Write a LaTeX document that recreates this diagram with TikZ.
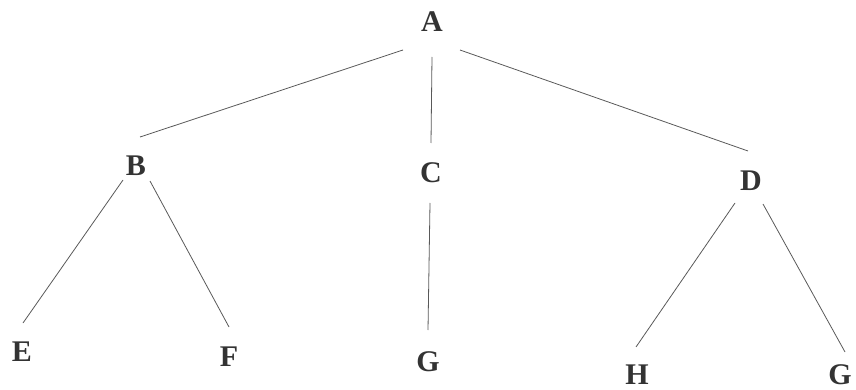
\documentclass[tikz,border=0pt]{standalone}
\usepackage{fontspec}
\setmainfont{Liberation Serif}
\begin{document}
\begin{tikzpicture}[x=1pt,y=-1pt,
  lbl/.style={inner sep=0pt, font=\fontsize{30}{32}\selectfont\bfseries, text=black!80},
  edge/.style={draw=black!65, line width=0.8pt}]
\useasboundingbox (0,0) rectangle (856,390);
\node[lbl] (A) at (432,22) {A};
\node[lbl] (B) at (136,166) {B};
\node[lbl] (C) at (431,173) {C};
\node[lbl] (D) at (751,181) {D};
\node[lbl] (E) at (22,352) {E};
\node[lbl] (F) at (229,357) {F};
\node[lbl] (G) at (428,362) {G};
\node[lbl] (H) at (637,375) {H};
\node[lbl] (G2) at (840,375) {G};
\draw[edge] ([shift={(-29,28)}]A.center) -- ([shift={(4,-29)}]B.center);
\draw[edge] ([shift={(0,35)}]A.center) -- ([shift={(0,-30)}]C.center);
\draw[edge] ([shift={(28,28)}]A.center) -- ([shift={(-3,-30)}]D.center);
\draw[edge] ([shift={(-13,14)}]B.center) -- ([shift={(1,-29)}]E.center);
\draw[edge] ([shift={(14,15)}]B.center) -- ([shift={(0,-30)}]F.center);
\draw[edge] ([shift={(-1,30)}]C.center) -- ([shift={(0,-32)}]G.center);
\draw[edge] ([shift={(-16,22)}]D.center) -- ([shift={(-1,-28)}]H.center);
\draw[edge] ([shift={(12,23)}]D.center) -- ([shift={(5,-23)}]G2.center);
\end{tikzpicture}
\end{document}
